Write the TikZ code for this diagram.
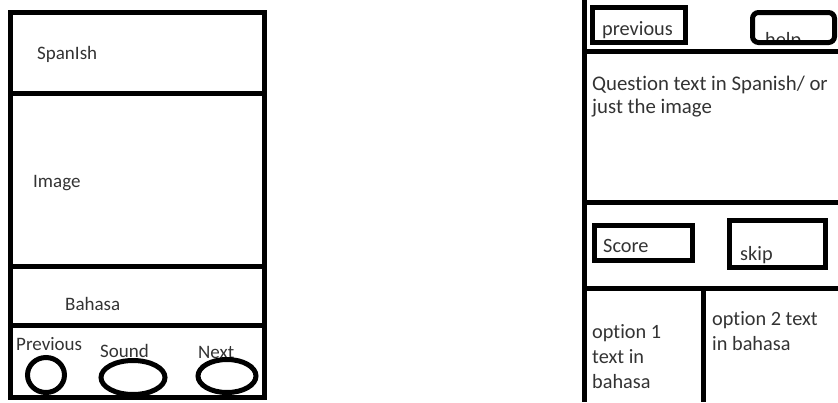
\documentclass[tikz,border=0pt]{standalone}
\usepackage{fontspec}
\setmainfont{Carlito}[Ligatures=NoCommon]
\usetikzlibrary{positioning}

\tikzset{
  wire/.style={black, line width=5pt},
  lbl/.style={font=\fontsize{19}{22}\selectfont, text=black!80, anchor=base west, inner sep=0pt, align=left},
  big/.style={font=\fontsize{20.3}{25}\selectfont},
}

\begin{document}
\begin{tikzpicture}[x=1pt,y=-1pt]
\useasboundingbox (0,0) rectangle (838,402);
% left screen
\draw[wire] (10.5,12.5) rectangle (264.5,397.5);
\draw[wire] (10.5,93) -- (264.5,93);
\draw[wire] (10.5,266.5) -- (264.5,266.5);
\draw[wire] (10.5,325) -- (264.5,325);
\node[lbl] (spanish) at (37,59) {SpanIsh};
\node[lbl] (image) at (33,187) {Image};
\node[lbl] (bahasa) at (65,310) {Bahasa};
\node[lbl] (prevlbl) at (16,350) {Previous};
\node[lbl] (soundlbl) at (100,357) {Sound};
\node[lbl] (nextlbl) at (198,358) {Next};
\draw[wire] (46,375) ellipse [x radius=18.5, y radius=17.5];
\draw[wire] (133,377.5) ellipse [x radius=32, y radius=17];
\draw[wire] (227,376) ellipse [x radius=29, y radius=16.5];
% right screen
\draw[wire] (584.5,0) -- (584.5,402);
\draw[wire] (584.5,51) -- (838,51);
\draw[wire] (584.5,202) -- (838,202);
\draw[wire] (584.5,288) -- (838,288);
\draw[wire] (703,288) -- (703,402);
\node[lbl, big] (previous) at (602,35) {previous};
\draw[wire] (592.5,7.5) rectangle (685.5,42.5);
\begin{scope}
\clip (752.5,12.5) rectangle (834.5,42.5);
\node[lbl, big] (help) at (765,46) {help};
\end{scope}
\draw[wire, rounded corners=6pt] (752.5,12.5) rectangle (834.5,42.5);
\node[lbl, font=\fontsize{20.8}{23}\selectfont] (question) at (592,113) {Question text in Spanish/ or\\just the image};
\node[lbl, big] (score) at (603,252) {Score};
\draw[wire] (594.5,225.5) rectangle (692.5,260.5);
\node[lbl, big] (skip) at (740,260) {skip};
\draw[wire] (729.5,220.5) rectangle (825.5,267.5);
\node[lbl, big] (opt1) at (592,388) {option 1\\text in\\bahasa};
\node[lbl, big] (opt2) at (712,350) {option 2 text\\in bahasa};
\end{tikzpicture}
\end{document}
